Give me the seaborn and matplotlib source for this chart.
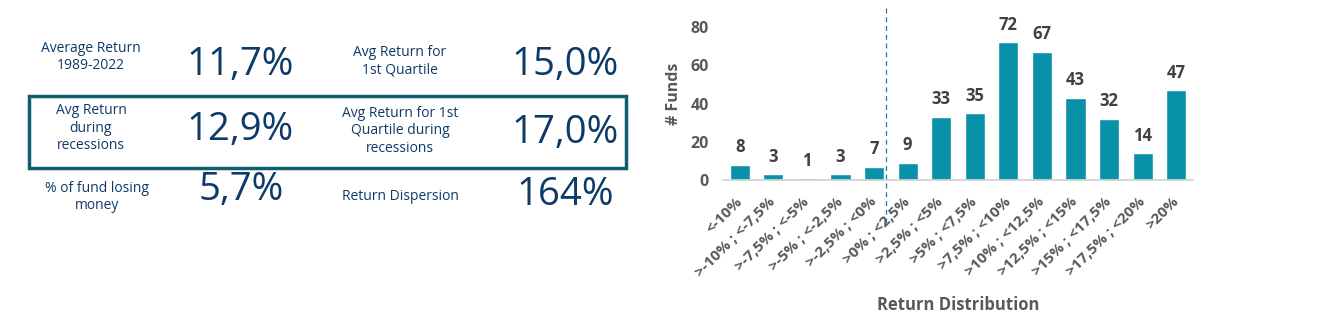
import matplotlib
matplotlib.use("Agg")
import matplotlib.pyplot as plt
import seaborn as sns
import pandas as pd
from matplotlib.patches import Rectangle

sns.set_theme(style="white")
plt.rcParams['font.family'] = ['Open Sans', 'DejaVu Sans']

# Data
categories = ["<-10%", ">-10% ; <-7,5%", ">-7,5% ; <-5%", ">-5% ; <-2,5%", ">-2,5% ; <0%",
              ">0% ; <2,5%", ">2,5% ; <5%", ">5% ; <7,5%", ">7,5% ; <10%", ">10% ; <12,5%",
              ">12,5% ; <15%", ">15% ; <17,5%", ">17,5% ; <20%", ">20%"]
funds = [8, 3, 1, 3, 7, 9, 33, 35, 72, 67, 43, 32, 14, 47]
y_ticks = [0, 20, 40, 60, 80]

stat_labels = ["Average Return\n1989-2022", "Avg Return for\n1st Quartile",
               "Avg Return\nduring\nrecessions", "Avg Return for 1st\nQuartile during\nrecessions",
               "% of fund losing\nmoney", "Return Dispersion"]
stat_values = ["11,7%", "15,0%", "12,9%", "17,0%", "5,7%", "164%"]

NAVY = "#0E3A68"
BOX = "#0F5E6E"
BAR = "#0A91AA"
GRAY = "#595959"
DARK = "#404040"

W, H = 1334, 325
fig = plt.figure(figsize=(W / 100, H / 100), dpi=100)

# ---- Left panel: statistics text ----
def px(x, y):
    return x / W, 1 - y / H

label_pos = [(91, 57), (400, 61), (91, 128), (400, 131), (97, 197), (400, 197)]
value_pos = [(240, 65), (565, 65), (240, 130), (565, 133), (241, 190), (565, 195)]
for lab, (x, y) in zip(stat_labels, label_pos):
    fx, fy = px(x, y)
    fig.text(fx, fy, lab, ha="center", va="center", color=NAVY, fontsize=10,
             linespacing=1.2)
for val, (x, y) in zip(stat_values, value_pos):
    fx, fy = px(x, y)
    fig.text(fx, fy, val, ha="center", va="center", color=NAVY, fontsize=27.5)

bx0, by0 = px(29, 168)
bx1, by1 = px(626, 96)
fig.add_artist(Rectangle((bx0, by0), bx1 - bx0, by1 - by0, transform=fig.transFigure,
                         fill=False, edgecolor=BOX, linewidth=2.5))

# ---- Right panel: bar chart ----
ax = fig.add_axes([723 / W, 1 - 180 / H, (1193 - 723) / W, (180 - 8) / H])
df = pd.DataFrame({"category": categories, "funds": funds})
sns.barplot(data=df, x="category", y="funds", color=BAR, saturation=1, width=0.6, ax=ax)
ax.set_xlim(-0.5, len(categories) - 0.5)
ax.set_ylim(0, 90)
ax.set_yticks(y_ticks)
ax.set_yticklabels([str(t) for t in y_ticks], fontsize=11.5, fontweight="bold", color=GRAY)
ax.tick_params(axis="y", length=0, pad=10)
ax.tick_params(axis="x", length=0, pad=14)
ax.set_xticks(range(len(categories)))
ax.set_xticklabels(categories, rotation=45, ha="right", va="center", rotation_mode="anchor",
                   fontsize=11, fontweight="bold", color=GRAY)
for s in ["top", "right", "left"]:
    ax.spines[s].set_visible(False)
ax.spines["bottom"].set_color("#D0D0D0")
ax.spines["bottom"].set_linewidth(1.2)
ax.set_ylabel("# Funds", fontsize=11.5, fontweight="bold", color=GRAY, labelpad=6)
ax.set_xlabel("Return Distribution", fontsize=12, fontweight="bold", color=GRAY, labelpad=12)

for i, v in enumerate(funds):
    ax.annotate(str(v), (i, v), xytext=(0, 9), textcoords="offset points",
                ha="center", va="baseline", fontsize=12, fontweight="bold", color=DARK)

ax.plot([4.35, 4.35], [-22.5, 90], linestyle=(0, (4, 3)), color="#1A7FA0",
        linewidth=0.9, clip_on=False)

fig.savefig("out.png", dpi=100)
